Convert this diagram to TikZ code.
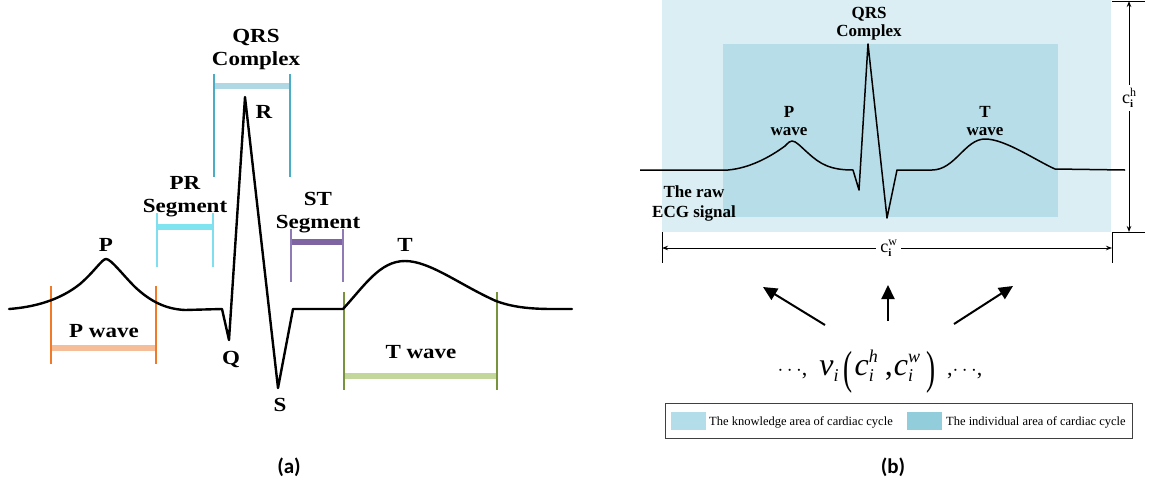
\documentclass[tikz,border=0pt]{standalone}
\usepackage{fontspec}
\usepackage{graphicx}
\setmainfont{Liberation Serif}
\newfontfamily\widefont[FakeStretch=1.15]{Liberation Serif}
\newfontfamily\capfont{Carlito}
\usetikzlibrary{arrows.meta}
\definecolor{qrsline}{HTML}{4BACC6}
\definecolor{qrsbar}{HTML}{B0D8E4}
\definecolor{prline}{HTML}{7FDFEE}
\definecolor{prbar}{HTML}{7FE3F0}
\definecolor{stline}{HTML}{8E7BB5}
\definecolor{stbar}{HTML}{7E64A0}
\definecolor{pline}{HTML}{F07A28}
\definecolor{pbar}{HTML}{F5BE98}
\definecolor{tline}{HTML}{77933C}
\definecolor{tbar}{HTML}{C3D69B}
\definecolor{outerarea}{HTML}{DAEEF3}
\definecolor{innerarea}{HTML}{B7DEE8}
\definecolor{swatchA}{HTML}{B3DDE8}
\definecolor{swatchB}{HTML}{92CDDC}
% formula helpers
\newcommand{\smallit}[1]{{\fontsize{18}{18}\selectfont\itshape #1}}
\newcommand{\subsup}[2]{\rlap{\raisebox{-6pt}{\smallit{#1}}}\raisebox{13pt}{\smallit{#2}}}
\newcommand{\bigparen}[1]{\raisebox{-8pt}{\scalebox{0.85}[1.45]{#1}}}
\newcommand{\dimlab}[1]{{\fontsize{18}{18}\selectfont c}\rlap{\raisebox{-4pt}{\fontsize{11}{11}\selectfont\textbf{i}}}\raisebox{7pt}{\fontsize{12}{12}\selectfont #1}}
\begin{document}
\begin{tikzpicture}[x=1pt,y=-1pt,
  alab/.style={font=\widefont\bfseries\fontsize{20}{23}\selectfont, align=center, inner sep=0pt},
  blab/.style={font=\bfseries\fontsize{17}{18}\selectfont, align=center, inner sep=0pt},
  sublab/.style={font=\capfont\bfseries\fontsize{21}{24}\selectfont, inner sep=0pt},
  brk/.style={line width=1.5pt},
  barline/.style={line width=6.5pt},
  ecga/.style={line width=2.4pt, line join=round, line cap=round},
  ecgb/.style={line width=1.5pt, line join=round},
  dimline/.style={line width=1pt, {Stealth[length=6pt,width=4.5pt]}-{Stealth[length=6pt,width=4.5pt]}},
  tick/.style={line width=1pt},
  bigarrow/.style={line width=2pt, -{Triangle[length=14pt,width=13pt]}},
  legtext/.style={font=\fontsize{12.5}{14}\selectfont, anchor=west, inner sep=0pt}
]
\useasboundingbox (0,0) rectangle (1149,488);

% ================= panel (a) =================
% QRS complex bracket
\draw[barline,qrsbar] (214,86) -- (290,86);
\draw[brk,qrsline] (214,74) -- (214,177) (290,74) -- (290,177);
\node[alab,anchor=north] (qrsA) at (256,29) {QRS\\Complex};
% PR segment bracket
\draw[barline,prbar] (157,227) -- (213,227);
\draw[brk,prline] (157,213) -- (157,267) (213,213) -- (213,267);
\node[alab,anchor=north] (prA) at (185,176) {PR\\Segment};
% ST segment bracket
\draw[barline,stbar] (291,242) -- (343,242);
\draw[brk,stline] (291,229) -- (291,282) (343,229) -- (343,282);
\node[alab,anchor=north] (stA) at (318,192) {ST\\Segment};
% P wave bracket
\draw[barline,pbar] (51,348) -- (156,348);
\draw[brk,pline] (51,286) -- (51,364) (156,286) -- (156,364);
\node[alab] (pwA) at (104,331) {P wave};
% T wave bracket
\draw[barline,tbar] (344,376) -- (497,376);
\draw[brk,tline] (344,292) -- (344,390) (497,292) -- (497,390);
\node[alab] (twA) at (421,352) {T wave};

% ECG trace (a)
\draw[ecga] (9,309) .. controls (35,307) and (60,300) .. (80,284)
  .. controls (95,271) and (102,259) .. (106,259)
  .. controls (111,259) and (122,274) .. (135,287)
  .. controls (150,301) and (165,309) .. (185,310)
  -- (222,309) -- (229,340) -- (245,97) -- (278,388) -- (293,309) -- (343,309)
  .. controls (365,285) and (380,261) .. (405,261)
  .. controls (430,261) and (460,285) .. (496,301)
  .. controls (520,310) and (545,309) .. (572,309);

\node[alab] (pA) at (106,245) {P};
\node[alab] (rA) at (264,112) {R};
\node[alab] (qA) at (231,359) {Q};
\node[alab] (sA) at (280,405) {S};
\node[alab] (tA) at (405,245) {T};
\node[sublab] (capA) at (289,467) {(a)};

% ================= panel (b) =================
\fill[outerarea] (662,0) rectangle (1111,232);
\fill[innerarea] (723,44) rectangle (1058,217);

\draw[ecgb] (640,170) -- (728,170)
  .. controls (750,168) and (770,157) .. (785,146)
  .. controls (789,142) and (790,141) .. (792,141)
  .. controls (796,141) and (800,146) .. (808,153)
  .. controls (820,164) and (830,170) .. (853,170)
  -- (859,190) -- (868,44) -- (887,218) -- (897,170) -- (932,170)
  .. controls (955,170) and (965,139) .. (985,139)
  .. controls (1005,139) and (1035,160) .. (1055,169)
  -- (1125,170);

\node[blab,anchor=north] (qrsB) at (869,7) {QRS\\Complex};
\node[blab,anchor=north] (pB) at (789,106) {P\\wave};
\node[blab,anchor=north] (tB) at (985,106) {T\\wave};
\node[blab,anchor=north,font=\bfseries\fontsize{17}{20}\selectfont] (rawB) at (694,185) {The raw\\ECG signal};

% height dimension
\draw[tick] (1112,1) -- (1145,1) (1112,232) -- (1145,232);
\coordinate (htop) at (1129,1);
\coordinate (hbot) at (1129,232);
\draw[dimline] (htop) -- (hbot)
  node[pos=0.42, fill=white, inner sep=3pt] (chB) {\dimlab{h}};

% width dimension
\draw[tick] (662,232) -- (662,263) (1112,232) -- (1112,263);
\coordinate (wl) at (662,248);
\coordinate (wr) at (1112,248);
\draw[dimline] (wl) -- (wr)
  node[pos=0.504, fill=white, inner sep=4pt] (cwB) {\dimlab{w}};

% formula
\node[anchor=base, inner sep=0pt, font=\fontsize{32}{36}\selectfont] (vec) at (880,375)
  {{\fontsize{22}{24}\selectfont$\cdots$,}\hspace{12pt}{\itshape v}\raisebox{-6pt}{\smallit{i}}\hspace{5pt}\bigparen{(}\hspace{2pt}{\itshape c}\subsup{i}{h}\hspace{7pt},\hspace{1pt}{\itshape c}\subsup{i}{w}\hspace{6pt}\bigparen{)}\hspace{12pt}{\fontsize{22}{24}\selectfont,$\cdots$,}};

\coordinate (a1s) at (825,325);
\coordinate (a1e) at (763,287);
\coordinate (a2s) at (888,321);
\coordinate (a2e) at (888,285);
\coordinate (a3s) at (954,324);
\coordinate (a3e) at (1013,286);
\draw[bigarrow] (a1s) -- (a1e);
\draw[bigarrow] (a2s) -- (a2e);
\draw[bigarrow] (a3s) -- (a3e);

% legend
\draw[line width=1pt, black!75] (665,403) rectangle (1132,438);
\fill[swatchA] (671,412) rectangle (706,430);
\node[legtext] (legA) at (709,422) {The knowledge area of cardiac cycle};
\fill[swatchB] (907,412) rectangle (942,430);
\node[legtext] (legB) at (946,422) {The individual area of cardiac cycle};

\node[sublab] (capB) at (893,467) {(b)};
\end{tikzpicture}
\end{document}
